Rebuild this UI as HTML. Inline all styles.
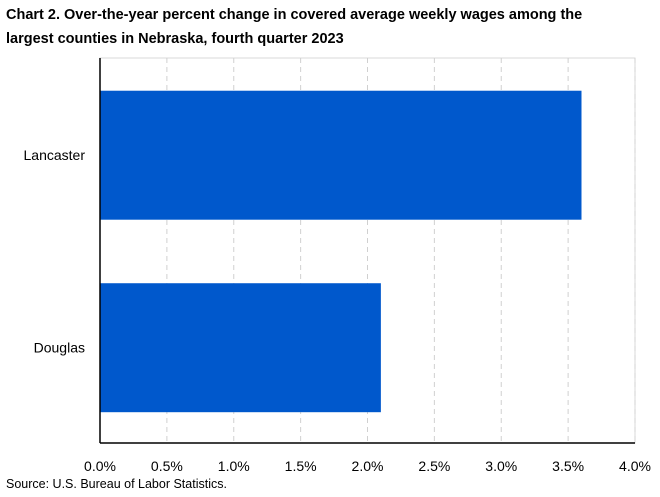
<!DOCTYPE html>
<html><head><meta charset="utf-8"><style>
body{margin:0;background:#fff;font-family:"Liberation Sans",sans-serif;}
</style></head><body>
<svg width="660" height="492" xmlns="http://www.w3.org/2000/svg">
<text x="6" y="19" font-size="14.5" font-weight="bold" fill="#000">Chart 2. Over-the-year percent change in covered average weekly wages among the</text>
<text x="6" y="43" font-size="14.5" font-weight="bold" fill="#000">largest counties in Nebraska, fourth quarter 2023</text>
<g id="plot"></g>
<text x="6" y="488" font-size="12.5" fill="#000">Source: U.S. Bureau of Labor Statistics.</text>
</svg>
<script>
const categories=["Lancaster","Douglas"];
const values=[3.6,2.1];
const ticks=[0,0.5,1,1.5,2,2.5,3,3.5,4];
const tickLabels=["0.0%","0.5%","1.0%","1.5%","2.0%","2.5%","3.0%","3.5%","4.0%"];
const NS="http://www.w3.org/2000/svg";
const g=document.getElementById('plot');
const L=100,R=635,T=58,B=443;
const x=v=>L+(v-0)/(4-0)*(R-L);
const band=(B-T)/categories.length;
function mk(t,a){const e=document.createElementNS(NS,t);for(const k in a)e.setAttribute(k,a[k]);g.appendChild(e);return e;}
let f=mk('rect',{x:L,y:T,width:R-L,height:B-T,fill:'none',stroke:'#d9d9d9'});


ticks.forEach((t,i)=>{
 if(i>0){let l=mk('line',{x1:x(t),x2:x(t),y1:T,y2:B,stroke:'#d0d0d0','stroke-dasharray':'5,4'});
 
 }
 let tx=mk('text',{x:x(t),y:471,'font-size':14,'text-anchor':'middle',fill:'#000'});
 tx.textContent=tickLabels[i];
 
 
});
categories.forEach((c,i)=>{
 const y0=T+band*i+band*0.17,h=band*0.67;
 let r=mk('rect',{x:L,y:y0,width:x(values[i])-L,height:h,fill:'#0058cc'});
 
 
 let tx=mk('text',{x:85,y:y0+h/2+5,'font-size':14,'text-anchor':'end',fill:'#000'});
 tx.textContent=c;
 
 
});
let ax=mk('line',{x1:L,x2:L,y1:T,y2:B,stroke:'#000','stroke-width':1.5});


let bx=mk('line',{x1:L,x2:R,y1:B,y2:B,stroke:'#000','stroke-width':1.5});


</script>
</body></html>
